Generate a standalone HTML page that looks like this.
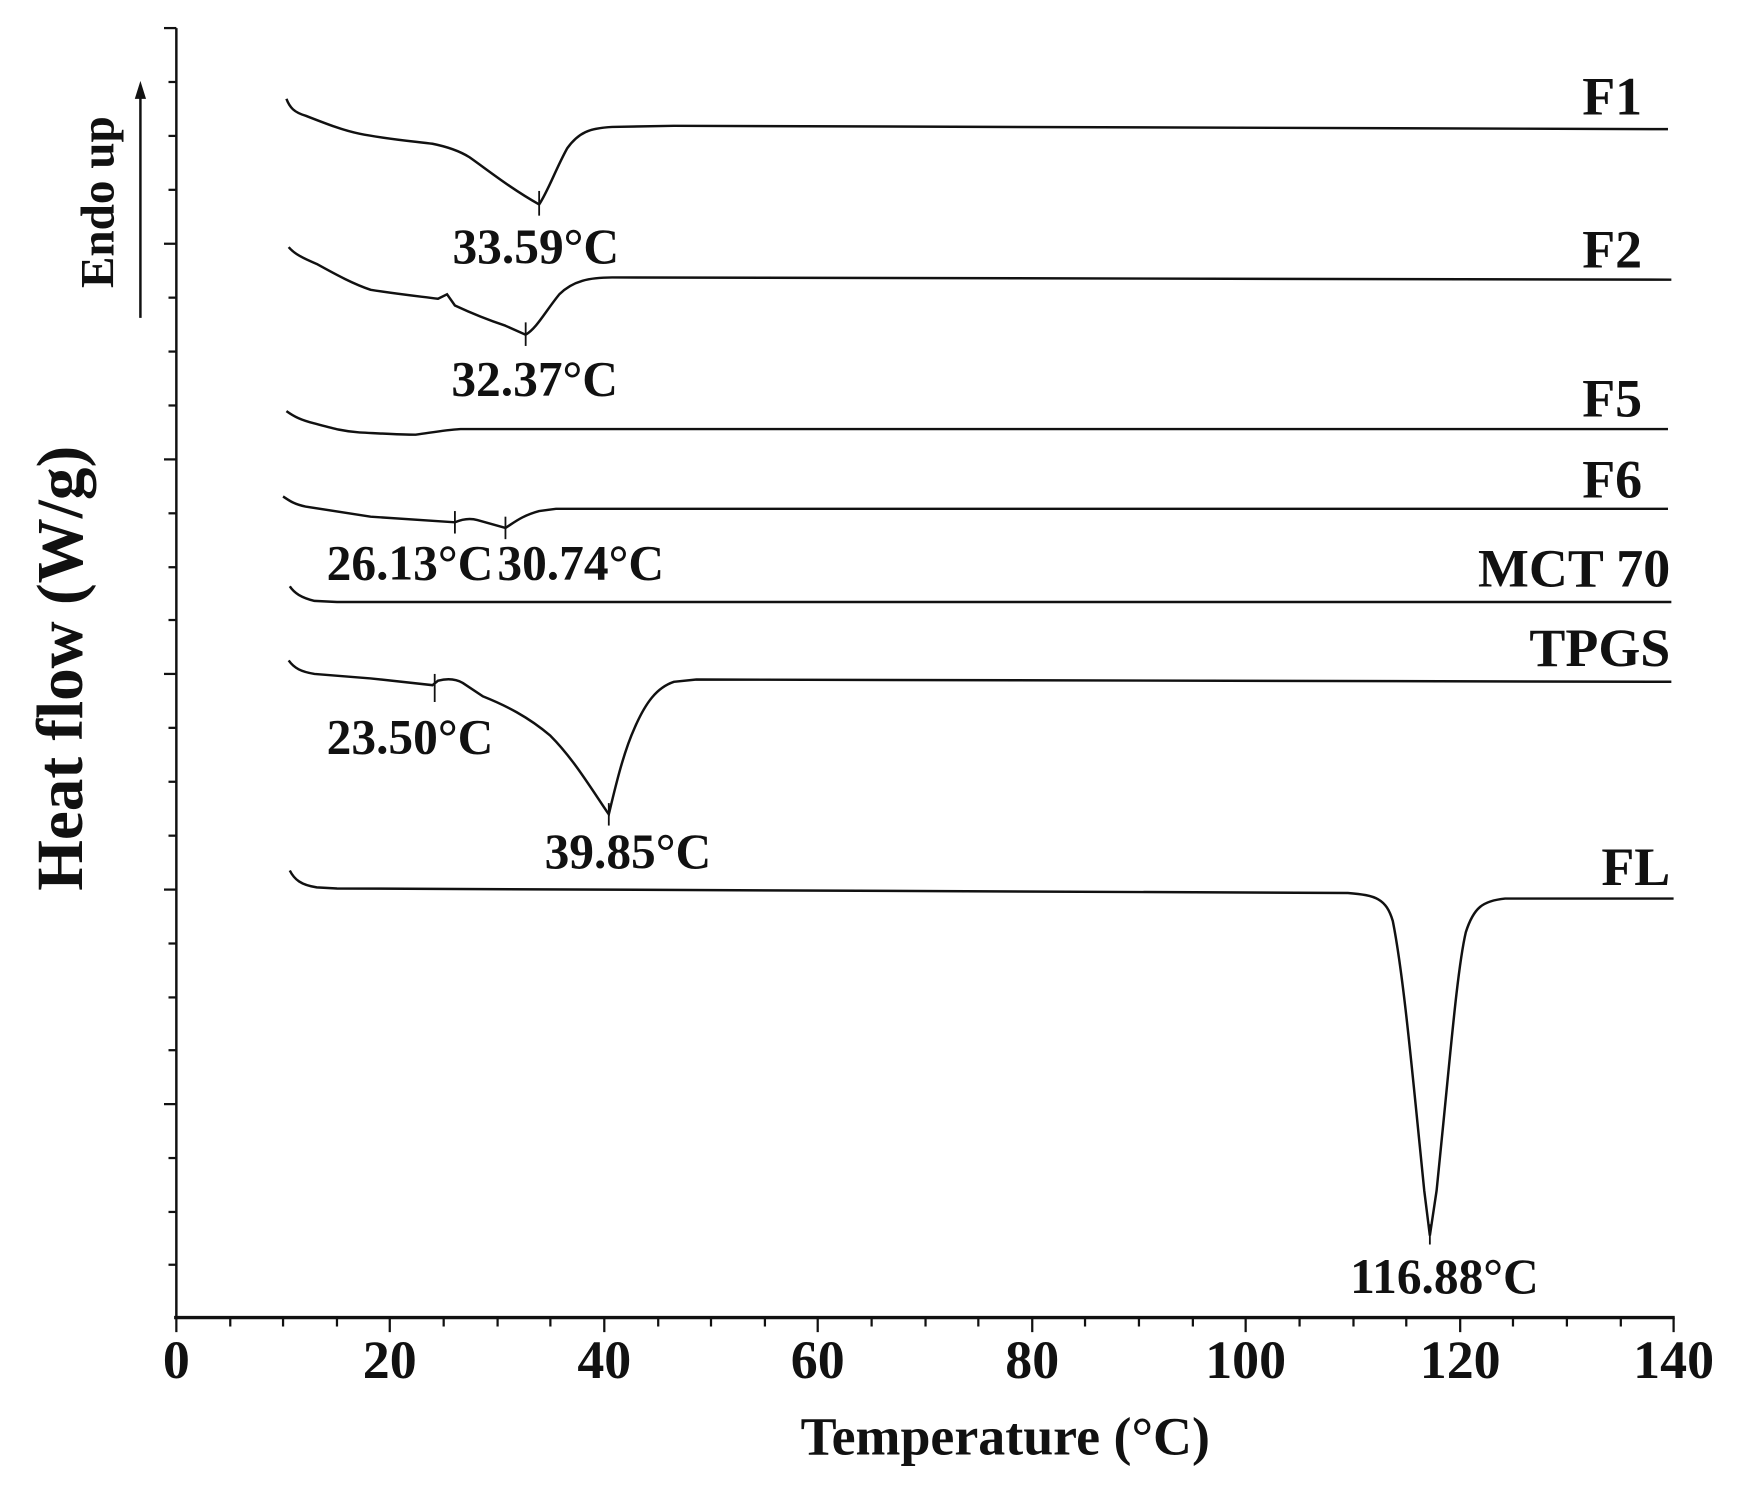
<!DOCTYPE html>
<html><head><meta charset="utf-8"><style>
html,body{margin:0;padding:0;background:#fff;}
svg{display:block;}
text{font-family:"Liberation Serif",serif;font-weight:bold;fill:#111;}
</style></head><body>
<svg width="1741" height="1495" viewBox="0 0 1550 1331" xmlns="http://www.w3.org/2000/svg">
<rect width="1550" height="1331" fill="#fff"/>
<g stroke="#111" fill="none" stroke-width="2.2">
<line x1="157" y1="25" x2="157" y2="1174"/>
<line x1="155" y1="1173" x2="1491" y2="1173" stroke-width="3"/>
<g stroke-width="2">
<line x1="146" y1="25" x2="157" y2="25"/><line x1="146" y1="217" x2="157" y2="217"/><line x1="146" y1="409" x2="157" y2="409"/><line x1="146" y1="600" x2="157" y2="600"/><line x1="146" y1="792" x2="157" y2="792"/><line x1="146" y1="983" x2="157" y2="983"/>
<line x1="150" y1="73" x2="157" y2="73"/><line x1="150" y1="121" x2="157" y2="121"/><line x1="150" y1="169" x2="157" y2="169"/>
<line x1="150" y1="265" x2="157" y2="265"/><line x1="150" y1="313" x2="157" y2="313"/><line x1="150" y1="361" x2="157" y2="361"/>
<line x1="150" y1="457" x2="157" y2="457"/><line x1="150" y1="505" x2="157" y2="505"/><line x1="150" y1="552" x2="157" y2="552"/>
<line x1="150" y1="648" x2="157" y2="648"/><line x1="150" y1="696" x2="157" y2="696"/><line x1="150" y1="744" x2="157" y2="744"/>
<line x1="150" y1="840" x2="157" y2="840"/><line x1="150" y1="888" x2="157" y2="888"/><line x1="150" y1="935" x2="157" y2="935"/>
<line x1="150" y1="1031" x2="157" y2="1031"/><line x1="150" y1="1079" x2="157" y2="1079"/><line x1="150" y1="1126" x2="157" y2="1126"/>
</g>
<g stroke-width="2">
<line x1="157" y1="1173" x2="157" y2="1186"/><line x1="347" y1="1173" x2="347" y2="1186"/><line x1="538" y1="1173" x2="538" y2="1186"/><line x1="728" y1="1173" x2="728" y2="1186"/><line x1="919" y1="1173" x2="919" y2="1186"/><line x1="1109" y1="1173" x2="1109" y2="1186"/><line x1="1300" y1="1173" x2="1300" y2="1186"/><line x1="1490" y1="1173" x2="1490" y2="1186"/>
<line x1="205" y1="1173" x2="205" y2="1181"/><line x1="252" y1="1173" x2="252" y2="1181"/><line x1="300" y1="1173" x2="300" y2="1181"/>
<line x1="395" y1="1173" x2="395" y2="1181"/><line x1="443" y1="1173" x2="443" y2="1181"/><line x1="490" y1="1173" x2="490" y2="1181"/>
<line x1="586" y1="1173" x2="586" y2="1181"/><line x1="633" y1="1173" x2="633" y2="1181"/><line x1="681" y1="1173" x2="681" y2="1181"/>
<line x1="776" y1="1173" x2="776" y2="1181"/><line x1="824" y1="1173" x2="824" y2="1181"/><line x1="871" y1="1173" x2="871" y2="1181"/>
<line x1="966" y1="1173" x2="966" y2="1181"/><line x1="1014" y1="1173" x2="1014" y2="1181"/><line x1="1062" y1="1173" x2="1062" y2="1181"/>
<line x1="1157" y1="1173" x2="1157" y2="1181"/><line x1="1205" y1="1173" x2="1205" y2="1181"/><line x1="1252" y1="1173" x2="1252" y2="1181"/>
<line x1="1347" y1="1173" x2="1347" y2="1181"/><line x1="1395" y1="1173" x2="1395" y2="1181"/><line x1="1443" y1="1173" x2="1443" y2="1181"/>
</g>
<line x1="125" y1="283" x2="125" y2="85"/>
<path d="M255,88 C258,96 262,100 272,103 C290,110 305,116 320,119 C345,124 370,126 385,128 C400,131 410,135 418,140 C435,152 455,168 480,182 C488,170 495,150 505,132 C515,118 525,114 545,113 L600,112 L1485,115"/>
<path d="M257,220 C262,226 270,230 282,235 C300,245 315,253 330,258 C355,262 375,264 390,266 L398,262 L405,272 C420,279 435,285 450,290 L468,298 C478,292 485,278 498,262 C510,250 525,247 545,247 L1488,249"/>
<path d="M255,366 C262,371 268,374 280,377 C295,381 305,384 320,385 C340,386 355,387 370,387 C385,385 395,383 410,382 L1485,382"/>
<path d="M252,442 C258,446 262,449 272,451 L330,460 L405,465 C412,462 418,461 425,463 L450,470 C458,465 465,459 480,455 L495,453 L1485,453"/>
<path d="M258,522 C262,528 268,532 280,535 L300,536 L1488,536"/>
<path d="M257,588 C262,595 268,598 280,600 L330,604 L385,610 L390,606 C398,604 405,604 412,608 L430,620 C450,628 470,638 490,655 C510,675 525,700 542,725 C548,700 555,670 565,648 C575,625 585,612 600,607 L620,605 L1488,607"/>
<path d="M258,775 C262,783 268,788 282,790 L300,791 L1200,795 C1225,797 1234,800 1240,820 C1248,860 1255,930 1262,1000 L1268,1060 L1273,1100 L1279,1060 L1285,1000 C1292,930 1298,860 1305,830 C1312,808 1320,802 1340,800 L1490,800"/>
<g stroke-width="1.6">
<line x1="480" y1="170" x2="480" y2="192"/><line x1="468" y1="287" x2="468" y2="308"/>
<line x1="405" y1="455" x2="405" y2="475"/><line x1="450" y1="460" x2="450" y2="480"/>
<line x1="387" y1="600" x2="387" y2="625"/><line x1="542" y1="715" x2="542" y2="735"/>
<line x1="1273" y1="1090" x2="1273" y2="1108"/>
</g>
</g>
<polygon points="125,72 120,88 130,88" fill="#111"/>
<g font-size="48" text-anchor="end">
<text x="1462" y="102">F1</text>
<text x="1462" y="238">F2</text>
<text x="1462" y="371">F5</text>
<text x="1462" y="443">F6</text>
<text x="1487" y="522">MCT 70</text>
<text x="1487" y="593">TPGS</text>
<text x="1487" y="788">FL</text>
</g>
<g font-size="44" text-anchor="middle">
<text x="477" y="234">33.59°C</text>
<text x="476" y="352">32.37°C</text>
<text x="365" y="516">26.13°C</text>
<text x="517" y="516">30.74°C</text>
<text x="365" y="671">23.50°C</text>
<text x="559" y="773">39.85°C</text>
<text x="1286" y="1151">116.88°C</text>
</g>
<g font-size="48" text-anchor="middle">
<text x="157" y="1227">0</text><text x="347" y="1227">20</text><text x="538" y="1227">40</text><text x="728" y="1227">60</text><text x="919" y="1227">80</text><text x="1109" y="1227">100</text><text x="1300" y="1227">120</text><text x="1490" y="1227">140</text>
</g>
<text x="895" y="1295" font-size="48" text-anchor="middle">Temperature (°C)</text>
<text transform="translate(101,180) rotate(-90)" font-size="42" text-anchor="middle">Endo up</text>
<text transform="translate(73,595) rotate(-90)" font-size="58" text-anchor="middle">Heat flow (W/g)</text>
</svg>
</body></html>
